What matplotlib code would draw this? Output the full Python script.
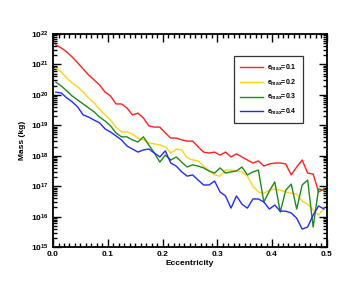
import matplotlib
matplotlib.use("Agg")
import matplotlib.pyplot as plt
import numpy as np
from matplotlib.ticker import FuncFormatter, LogLocator, MultipleLocator, NullFormatter

# centres des bins d'excentricité
ecc = np.arange(50) * 0.01 + 0.005

# log10 de la masse (kg)
log_m_01 = [21.64, 21.54, 21.41, 21.24, 21.05, 20.85, 20.65, 20.49, 20.32, 20.09,
            19.96, 19.70, 19.70, 19.57, 19.34, 19.40, 19.24, 18.98, 18.94, 18.94,
            18.75, 18.58, 18.58, 18.52, 18.48, 18.48, 18.29, 18.12, 18.09, 18.12,
            18.02, 18.12, 17.96, 18.06, 17.96, 17.86, 17.76, 17.83, 17.66, 17.73,
            17.76, 17.76, 17.73, 17.37, 17.63, 17.86, 17.43, 17.40, 16.81, 16.91]
log_m_02 = [20.88, 20.75, 20.55, 20.39, 20.26, 20.09, 19.90, 19.73, 19.53, 19.34,
            19.17, 18.94, 18.78, 18.78, 18.71, 18.58, 18.52, 18.42, 18.39, 18.35,
            18.29, 18.09, 18.22, 18.19, 17.93, 17.86, 17.83, 17.66, 17.50, 17.37,
            17.33, 17.53, 17.53, 17.50, 17.47, 17.33, 17.00, 16.81, 16.77, 16.87,
            16.91, 16.87, 16.81, 16.77, 16.74, 16.51, 16.41, 16.22, 16.05, 16.28]
log_m_03 = [20.42, 20.29, 20.13, 19.96, 19.83, 19.70, 19.57, 19.44, 19.27, 19.14,
            18.98, 18.75, 18.62, 18.62, 18.52, 18.45, 18.62, 18.35, 18.09, 17.79,
            18.02, 17.86, 17.96, 17.79, 17.63, 17.70, 17.66, 17.60, 17.50, 17.43,
            17.60, 17.43, 17.47, 17.50, 17.63, 17.37, 17.47, 17.53, 16.48, 16.84,
            17.14, 16.15, 16.87, 17.07, 16.25, 17.04, 17.20, 15.66, 16.91, 16.87]
log_m_04 = [20.09, 20.06, 19.90, 19.77, 19.60, 19.34, 19.27, 19.17, 19.08, 18.88,
            18.78, 18.65, 18.52, 18.32, 18.22, 18.12, 18.19, 18.22, 18.09, 17.96,
            18.16, 17.76, 17.66, 17.47, 17.33, 17.37, 17.20, 17.04, 17.04, 17.17,
            16.81, 16.68, 16.28, 16.68, 16.41, 16.28, 16.58, 16.58, 16.48, 16.25,
            16.38, 16.18, 16.18, 16.12, 15.95, 15.59, 15.66, 16.05, 16.35, 16.25]

series = [
    (log_m_01, "#ff2020", "0.1"),
    (log_m_02, "#ffd21a", "0.2"),
    (log_m_03, "#1e8a1e", "0.3"),
    (log_m_04, "#1f2bff", "0.4"),
]

plt.rcParams["mathtext.fontset"] = "custom"
plt.rcParams["mathtext.rm"] = "Liberation Sans"
plt.rcParams["mathtext.bf"] = "Liberation Sans:bold"
plt.rcParams["font.family"] = "Liberation Sans"
plt.rcParams["font.weight"] = "bold"

fig = plt.figure(figsize=(3.56, 2.85), dpi=100)
ax = fig.add_axes([0.149, 0.133, 0.769, 0.748])

for valores, cor, emax in series:
    ax.plot(ecc, 10 ** np.array(valores), color=cor, lw=1.0,
            label=r"$\mathbf{e_{max}}$=" + emax)

ax.set_yscale("log")
ax.set_xlim(0.0, 0.5)
ax.set_ylim(1e15, 1e22)


def rotulo_y(v, p):
    expoente = round(np.log10(v))
    if expoente < 15 or expoente > 22:
        return ""
    return r"$\mathbf{10^{%d}}$" % expoente


ax.xaxis.set_major_locator(MultipleLocator(0.1))
ax.xaxis.set_minor_locator(MultipleLocator(0.01))
ax.xaxis.set_major_formatter(FuncFormatter(lambda v, p: f"{v:.1f}"))
ax.yaxis.set_major_locator(LogLocator(base=10, numticks=20))
ax.yaxis.set_minor_locator(LogLocator(base=10, subs=np.arange(2, 10), numticks=20))
ax.yaxis.set_minor_formatter(NullFormatter())
ax.yaxis.set_major_formatter(FuncFormatter(rotulo_y))

ax.tick_params(which="both", direction="in", top=True, right=True, width=1.0,
               labelsize=6, pad=3)
ax.tick_params(which="major", length=6)
ax.tick_params(which="minor", length=3)
for spine in ax.spines.values():
    spine.set_linewidth(1.3)

ax.set_xlabel("Eccentricity", fontsize=6, fontweight="bold", labelpad=1)
ax.set_ylabel("Mass (kg)", fontsize=6, fontweight="bold", labelpad=4)

leg = ax.legend(loc="upper right", bbox_to_anchor=(0.927, 0.911), fontsize=5,
                frameon=True, fancybox=False, edgecolor="black", handlelength=3.2,
                borderpad=0.9, labelspacing=0.65, handletextpad=0.7)
leg.get_frame().set_linewidth(0.9)

plt.savefig("out.png", dpi=100)
